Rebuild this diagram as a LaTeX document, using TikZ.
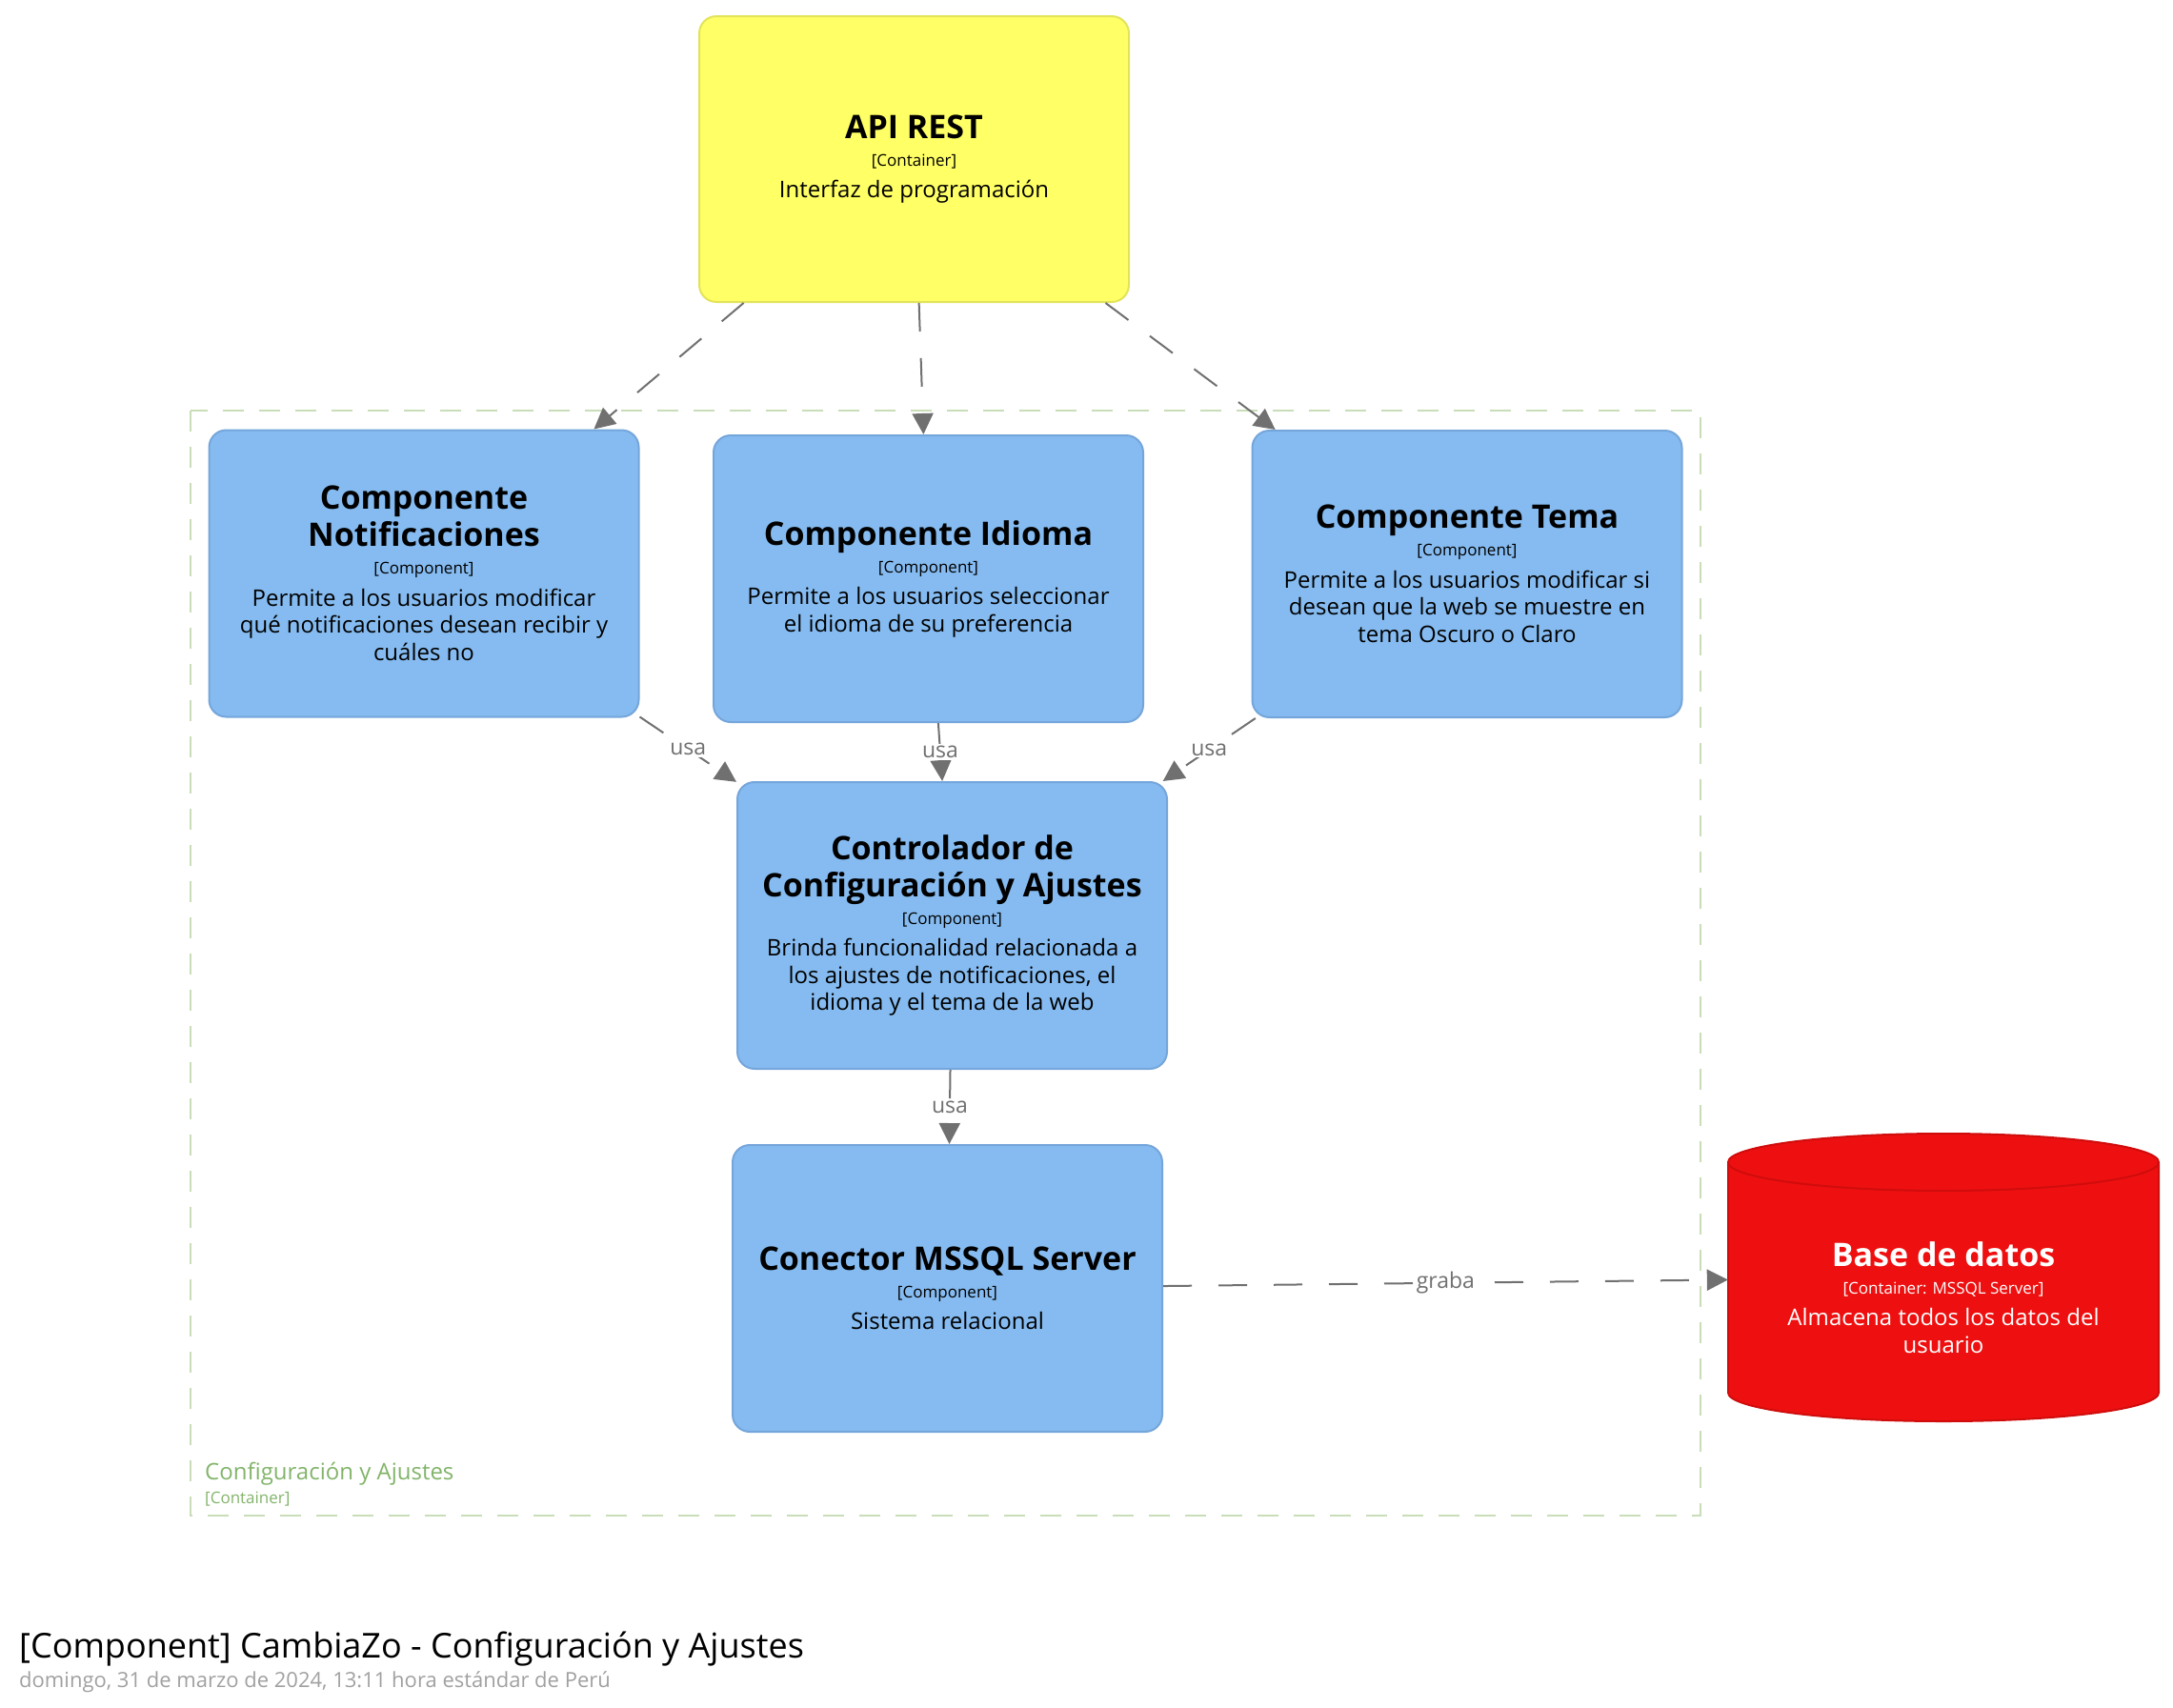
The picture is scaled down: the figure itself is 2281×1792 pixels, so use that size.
\documentclass[tikz,border=0pt]{standalone}
\usepackage{fontspec}
\setmainfont{Open Sans}
\usetikzlibrary{arrows.meta}
\definecolor{apiyellow}{HTML}{FFFF66}
\definecolor{apiborder}{HTML}{E3E35B}
\definecolor{compblue}{HTML}{85BBF0}
\definecolor{compborder}{HTML}{75A6DB}
\definecolor{dbred}{HTML}{EE1010}
\definecolor{dbborder}{HTML}{D00C0C}
\definecolor{relgray}{HTML}{707070}
\definecolor{bndgreen}{HTML}{C8DDB8}
\definecolor{bndtext}{HTML}{82B46A}
\definecolor{dategray}{HTML}{A0A0A0}
\newcommand{\elemtext}[3]{\spaceskip=0pt\relax\xspaceskip=0pt\relax{\fontsize{34}{39}\selectfont\bfseries #1\par}{\fontsize{17}{29}\selectfont #2\par}\vspace{5pt}{\fontsize{24}{28.5}\selectfont #3\par}}
\tikzset{
  elembox/.style={rounded corners=18pt, line width=2pt, inner sep=0pt, text width=440pt, align=flush center},
  apibox/.style={elembox, fill=apiyellow, draw=apiborder, minimum width=451pt, minimum height=300pt},
  compbox/.style={elembox, fill=compblue, draw=compborder, minimum width=451pt, minimum height=301pt},
  rel/.style={draw=relgray, line width=2pt, dash pattern=on 30pt off 28pt, -{Triangle[length=22pt,width=22pt]}, color=relgray},
  rellabel/.style={fill=white, inner sep=2pt, text=relgray, font=\fontsize{23}{26}\selectfont},
}
\begin{document}
\begin{tikzpicture}[x=1pt,y=1pt]
\useasboundingbox (0,0) rectangle (2281,-1792);
% boundary
\draw[bndgreen, line width=2pt, dash pattern=on 22pt off 16pt] (200,-431) rectangle (1785,-1591);
\node[anchor=base west, inner sep=0pt, text=bndtext, font=\fontsize{24}{27}\selectfont] (bndname) at (215,-1553) {Configuración y Ajustes};
\node[anchor=base west, inner sep=0pt, text=bndtext, font=\fontsize{17}{20}\selectfont] (bndtype) at (215,-1578) {[Container]};
% elements
\node[apibox] (api) at (959.5,-167) {\elemtext{API REST}{[Container]}{Interfaz de programación}};
\node[compbox] (notif) at (445,-602) {\elemtext{Componente\\Notificaciones}{[Component]}{Permite a los usuarios modificar\\qué notificaciones desean recibir y\\cuáles no}};
\node[compbox] (idioma) at (974.5,-607.5) {\elemtext{Componente Idioma}{[Component]}{Permite a los usuarios seleccionar\\el idioma de su preferencia}};
\node[compbox] (tema) at (1540,-602.5) {\elemtext{Componente Tema}{[Component]}{Permite a los usuarios modificar si\\desean que la web se muestre en\\tema Oscuro o Claro}};
\node[compbox] (ctrl) at (999.5,-971.5) {\elemtext{Controlador de\\Configuración y Ajustes}{[Component]}{Brinda funcionalidad relacionada a\\los ajustes de notificaciones, el\\idioma y el tema de la web}};
\node[compbox] (conn) at (994.5,-1352.5) {\elemtext{Conector MSSQL Server}{[Component]}{Sistema relacional}};
% database cylinder
\fill[dbred] (1814,-1220) -- (1814,-1462) arc (180:360:226pt and 30pt) -- (2266,-1220) arc (0:180:226pt and 30pt) -- cycle;
\draw[dbborder, line width=2pt] (1814,-1220) -- (1814,-1462) arc (180:360:226pt and 30pt) -- (2266,-1220) arc (0:180:226pt and 30pt) -- cycle;
\draw[dbborder, line width=2pt] (1814,-1220) arc (180:360:226pt and 30pt);
\node[minimum width=452pt, minimum height=302pt, inner sep=0pt] (db) at (2040,-1341) {};
\node[inner sep=0pt, text width=440pt, align=flush center, text=white] (dbtext) at (2040,-1362) {\elemtext{Base de datos}{[Container: MSSQL Server]}{Almacena todos los datos del\\usuario}};
% relationships
\draw[rel] (api) -- (notif);
\draw[rel] (api) -- (idioma);
\draw[rel] (api) -- (tema);
\draw[rel] (notif) -- node[rellabel] {usa} (ctrl);
\draw[rel] (idioma) -- node[rellabel] {usa} (ctrl);
\draw[rel] (tema) -- node[rellabel] {usa} (ctrl);
\draw[rel] (ctrl) -- node[rellabel] {usa} (conn);
\draw[rel] (conn) -- node[rellabel] {graba} (db);
% title
\node[anchor=west, inner sep=0pt, font=\fontsize{36}{41}\selectfont] (title) at (20,-1731) {[Component] CambiaZo - Configuración y Ajustes};
\node[anchor=west, inner sep=0pt, text=dategray, font=\fontsize{22}{25}\selectfont] (date) at (20,-1766) {domingo, 31 de marzo de 2024, 13:11 hora estándar de Perú};
\end{tikzpicture}
\end{document}
